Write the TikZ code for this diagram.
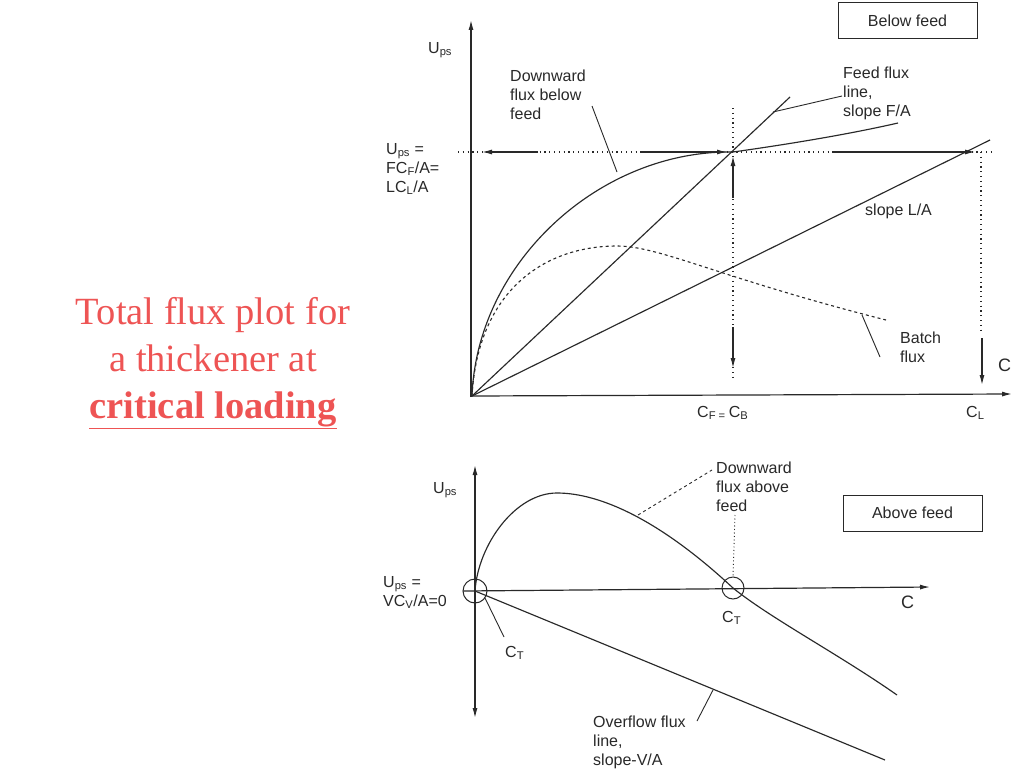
\documentclass[tikz,border=0pt]{standalone}
\usepackage{fontspec}
\setmainfont{Liberation Sans}
\newfontfamily\timesfont{Liberation Serif}
\usetikzlibrary{arrows.meta}
\definecolor{ink}{gray}{0.16}
\definecolor{titlered}{RGB}{238,84,84}
\begin{document}
\begin{tikzpicture}[x=1pt,y=-1pt,
  ax/.style={draw=ink, line width=1.2pt, -{Latex[length=10pt,width=5pt]}},
  arr/.style={draw=ink, line width=1.2pt, -{Latex[length=10pt,width=5pt]}},
  crv/.style={draw=ink, line width=1.15pt},
  dots/.style={draw=ink, line width=1.1pt, dash pattern=on 1.2pt off 3.6pt},
  bdash/.style={draw=ink, line width=1.1pt, dash pattern=on 3pt off 3pt},
  lead/.style={draw=ink, line width=0.9pt},
  lbl/.style={font=\fontsize{16}{19}\selectfont, text=ink, inner sep=0pt, align=left, anchor=north west},
  boxlbl/.style={draw=ink, line width=1pt, minimum width=139pt, minimum height=36pt,
     font=\fontsize{16}{19}\selectfont, text=ink, inner sep=0pt},
  title/.style={font=\timesfont\fontsize{38.5}{47}\selectfont, text=titlered, align=center, inner sep=0pt, anchor=north}
]
\useasboundingbox (0,0) rectangle (1024,768);
\fill[white] (0,0) rectangle (1024,768);

% ---------- title ----------
\node[title] (ttl) at (213,297) {Total flux plot for\\a thickener at\\\textbf{\underline{critical loading}}};

% ---------- upper plot ----------
\coordinate (O1) at (472,396);
\coordinate (Y1) at (471,20);
\coordinate (X1) at (1012,394);
\draw[ax] (471,397) -- (Y1);
\draw[ax] (471,396) -- (X1);

% horizontal level line
\coordinate (HL) at (458,152);
\coordinate (HR) at (993,152);
\draw[dots] (HL) -- (HR);
\draw[arr] (538,152) -- (482,152);
\draw[arr] (640,152) -- (727,152);
\draw[arr] (833,152) -- (975,152);

% verticals
\coordinate (P) at (733,152);
\draw[dots] (733,108) -- (733,378);
\draw[arr] (733,198) -- (733,156);
\draw[arr] (733,327) -- (733,368);
\draw[dots] (981,152) -- (981,332);
\draw[arr] (982,338) -- (982,385);

% feed flux line and L/A line
\coordinate (FT) at (790,97);
\coordinate (LT) at (990,140);
\draw[crv] (O1) -- (FT);
\draw[crv] (O1) -- (LT);

% downward flux below feed
\draw[crv] (O1) .. controls (477,262) and (600,150) .. (P)
   .. controls (790,144) and (850,134) .. (898,123);

% batch flux
\coordinate (BM) at (617,246);
\draw[bdash] (O1) .. controls (478,290) and (545,246) .. (BM)
   .. controls (660,246) and (720,278) .. (886,320);

% labels upper
\node[lbl] (ups1) at (428,42) {U\textsubscript{ps}};
\node[lbl] (dfb) at (510,70) {Downward\\flux below\\feed};
\coordinate (dfbA) at (592,106);
\coordinate (dfbB) at (617,172);
\draw[lead] (dfbA) -- (dfbB);
\node[lbl] (upsq) at (386,143) {U\textsubscript{ps} =\\FC\textsubscript{F}/A=\\LC\textsubscript{L}/A};
\node[lbl] (ffl) at (843,67) {Feed flux\\line,\\slope F/A};
\coordinate (fflA) at (842,96);
\coordinate (fflB) at (773,112);
\draw[lead] (fflA) -- (fflB);
\node[lbl] (sla) at (865,204) {slope L/A};
\node[lbl] (bf) at (900,332) {Batch\\flux};
\coordinate (bfA) at (880,357);
\coordinate (bfB) at (862,315);
\draw[lead] (bfA) -- (bfB);
\node[lbl, font=\fontsize{18}{20}\selectfont] (cu) at (998,359) {C};
\node[lbl] (cl) at (966,406) {C\textsubscript{L}};
\node[lbl] (cfb) at (697,406) {C\textsubscript{F = }C\textsubscript{B}};
\node[boxlbl] (below) at (907.5,21) {Below feed};

% ---------- lower plot ----------
\coordinate (O2) at (475,591);
\draw[draw=ink, line width=1.2pt, {Latex[length=10pt,width=5pt]}-{Latex[length=10pt,width=5pt]}] (475,718) -- (475,465);
\coordinate (X2) at (930,587);
\draw[ax] (463,591) -- (X2);

\coordinate (CT) at (733,588);
\node[draw=ink, line width=1pt, circle, minimum size=24pt, inner sep=0pt] (c1) at (O2) {};
\node[draw=ink, line width=1pt, circle, minimum size=22pt, inner sep=0pt] (c2) at (CT) {};

% downward flux above feed
\draw[crv] (O2) .. controls (478,545) and (515,493) .. (557,493)
   .. controls (600,493) and (660,520) .. (CT)
   .. controls (770,618) and (840,655) .. (897,695);

% overflow line
\coordinate (OT) at (885,760);
\draw[crv] (O2) -- (OT);

% leaders lower
\coordinate (dafA) at (638,515);
\coordinate (dafB) at (712,470);
\draw[bdash, line width=0.9pt] (dafA) -- (dafB);
\draw[dots, line width=0.9pt, dash pattern=on 1pt off 2.5pt] (735,515) -- (c2.north);
\coordinate (ctA) at (485,598);
\coordinate (ctB) at (504,637);
\draw[lead] (ctA) -- (ctB);
\coordinate (ofA) at (713,690);
\coordinate (ofB) at (697,721);
\draw[lead] (ofA) -- (ofB);

% labels lower
\node[lbl] (ups2) at (433,482) {U\textsubscript{ps}};
\node[lbl] (upsv) at (383,576) {U\textsubscript{ps} =\\VC\textsubscript{V}/A=0};
\node[lbl] (ct1) at (505,646) {C\textsubscript{T}};
\node[lbl] (ct2) at (722,611) {C\textsubscript{T}};
\node[lbl, font=\fontsize{18}{20}\selectfont] (cl2) at (901,596) {C};
\node[lbl] (daf) at (716,462) {Downward\\flux above\\feed};
\node[lbl] (ofl) at (593,716) {Overflow flux\\line,\\slope-V/A};
\node[boxlbl] (above) at (912.5,513) {Above feed};
\end{tikzpicture}
\end{document}
